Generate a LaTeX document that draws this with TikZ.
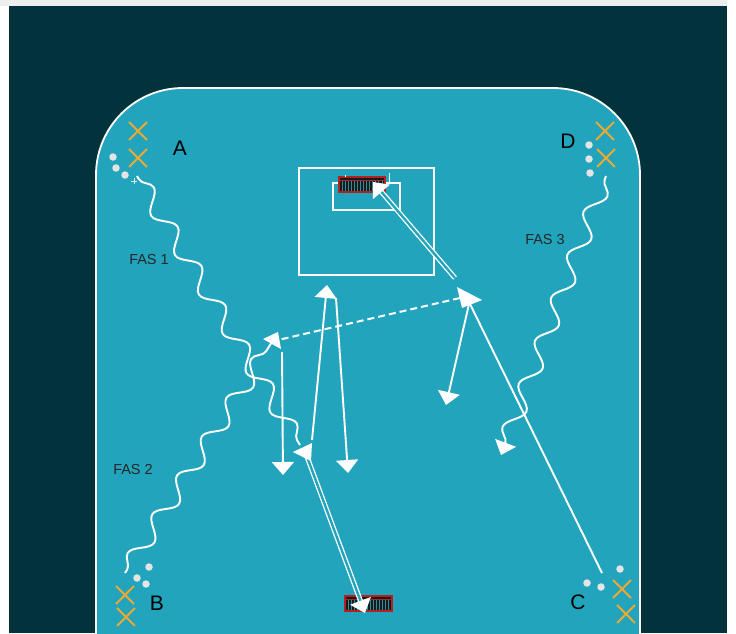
\documentclass[tikz,border=0pt]{standalone}
\usepackage{fontspec}
\setmainfont{Liberation Sans}
\usetikzlibrary{arrows.meta,decorations.pathmorphing,shapes.misc}
\definecolor{bgdark}{HTML}{02333D}
\definecolor{field}{HTML}{22A5BC}
\definecolor{xorange}{HTML}{F0A830}
\definecolor{ballc}{HTML}{E4E4E4}
\definecolor{topgray}{HTML}{EEEEEE}
\definecolor{netred}{HTML}{B52020}
\definecolor{netline}{HTML}{2A8FA0}
\tikzset{
  tipend/.style={-{Triangle[length=13pt,width=22pt]}},
  run/.style={white, line width=1.9pt},
  passline/.style={white, line width=2pt, dash pattern=on 7pt off 4pt},
  shotline/.style={draw=white, line width=1.3pt, double=field, double distance=2.4pt},
  wave/.style={white, line width=1.9pt, decorate,
    decoration={snake, segment length=46pt, amplitude=8.5pt, pre length=4pt, post length=4pt}},
  xnode/.style={cross out, draw=xorange, line width=1.8pt, minimum size=16pt, inner sep=0pt},
  ball/.style={circle, fill=ballc, minimum size=7.5pt, inner sep=0pt},
  lbl/.style={font=\fontsize{21}{21}\selectfont, text=black, inner sep=0pt},
  fas/.style={font=\fontsize{14.5}{15}\selectfont, text=black!85, inner sep=0pt},
  areabox/.style={draw=white, line width=1.6pt},
}
\newcommand\goalnet[4]{%
  \fill[black!90] (#1,#2) rectangle (#3,#4);
  \foreach \gx in {1,...,14} \draw[netline, line width=0.8pt] ({#1+\gx*(#3-#1)/15},{#2+3}) -- ({#1+\gx*(#3-#1)/15},{#4-1});
  \draw[netred, line width=1.2pt] (#1,#2) rectangle (#3,#4);
  \draw[netred, line width=1pt] (#1,{#2+3}) -- (#3,{#2+3});
}
\begin{document}
\begin{tikzpicture}[x=1pt,y=-1pt]
\useasboundingbox (0,0) rectangle (736,633);
\clip (0,0) rectangle (736,633);
\fill[white] (0,0) rectangle (736,633);
\fill[topgray] (0,0) rectangle (727,6);
\fill[bgdark] (9,6) rectangle (727,633);
% field
\draw[fill=field, draw=white, line width=1.8pt] (96,660) -- (96,175) arc[start angle=180, end angle=270, radius=87] -- (553,88) arc[start angle=270, end angle=360, radius=87] -- (640,660);
% goal area
\draw[areabox] (299,168) rectangle (434,275);
\draw[areabox] (333,183) rectangle (400,210);
\goalnet{339}{177}{385}{192}
\draw[white, line width=1pt] (389,173) -- (389,183);
\draw[white, line width=1pt] (345,174.5) -- (345,177);
\goalnet{345}{596}{392}{611}

% players / markers
\node[xnode] (xa1) at (138,131) {};
\node[xnode] (xa2) at (138,158) {};
\node[ball] (ba1) at (113,157) {};
\node[ball] (ba2) at (116,168) {};
\node[ball] (ba3) at (125,175) {};
\draw[white!80!field, line width=0.8pt] (131,181) -- (137,181) (134,178) -- (134,184);
\node[lbl] (la) at (180,148) {A};

\node[xnode] (xd1) at (605,131) {};
\node[xnode] (xd2) at (606,158) {};
\node[ball] (bd1) at (589,145) {};
\node[ball] (bd2) at (589,159) {};
\node[ball] (bd3) at (590,173) {};
\node[lbl] (ld) at (568,141) {D};

\node[xnode] (xb1) at (125,595) {};
\node[xnode] (xb2) at (126,617) {};
\node[ball] (bb1) at (149,567) {};
\node[ball] (bb2) at (137,578) {};
\node[ball] (bb3) at (146,584) {};
\node[lbl] (lb) at (157,603) {B};

\node[xnode] (xc1) at (622,589) {};
\node[xnode] (xc2) at (626,614) {};
\node[ball] (bc1) at (620,569) {};
\node[ball] (bc2) at (587,583) {};
\node[ball] (bc3) at (601,587) {};
\node[lbl] (lc) at (578,602) {C};

\node[fas] (f1) at (149,259) {FAS 1};
\node[fas] (f2) at (133,469) {FAS 2};
\node[fas] (f3) at (545,240) {FAS 3};

% path points
\coordinate (w1s) at (137,176);
\coordinate (w1e) at (300,445);
\coordinate (w2s) at (125,573);
\coordinate (w2e) at (272,342);
\coordinate (w3s) at (606,176);
\coordinate (w3e) at (501,455);

\coordinate (pL) at (278,340);
\coordinate (pR) at (460,298);
\coordinate (l1a) at (282,352);
\coordinate (l1b) at (283,475);
\coordinate (l2a) at (312,440);
\coordinate (l2b) at (327,285);
\coordinate (l3a) at (336,298);
\coordinate (l3b) at (348,473);
\coordinate (l4a) at (469,304);
\coordinate (l4b) at (446,405);
\coordinate (l5a) at (602,573);
\coordinate (l5b) at (470,304);
\coordinate (s1a) at (455,278);
\coordinate (s1b) at (373,182);
\coordinate (s2a) at (306,454);
\coordinate (s2b) at (365,613);

% dribbles
\draw[wave] (w1s) -- (w1e);
\draw[wave] (w2s) -- (w2e);
\draw[wave, tipend] (w3s) -- (w3e);

% runs
\draw[run, tipend] (l1a) -- (l1b);
\draw[run, tipend] (l2a) -- (l2b);
\draw[run, tipend] (l3a) -- (l3b);
\draw[run, tipend] (l4a) -- (l4b);
\draw[run] (l5a) -- (l5b);
% pass
\draw[passline] (pR) -- (pL);
\fill[white] (263,339) -- (278,332) -- (281,349) -- cycle;
\fill[white] (482,300) -- (457,287) -- (462,308) -- cycle;
% shots
\draw[shotline, tipend] (s1a) -- (s1b);
\draw[shotline, tipend] (s2a) -- (s2b);
\fill[white] (293,452) -- (312,443) -- (311,461) -- cycle;
\end{tikzpicture}
\end{document}
